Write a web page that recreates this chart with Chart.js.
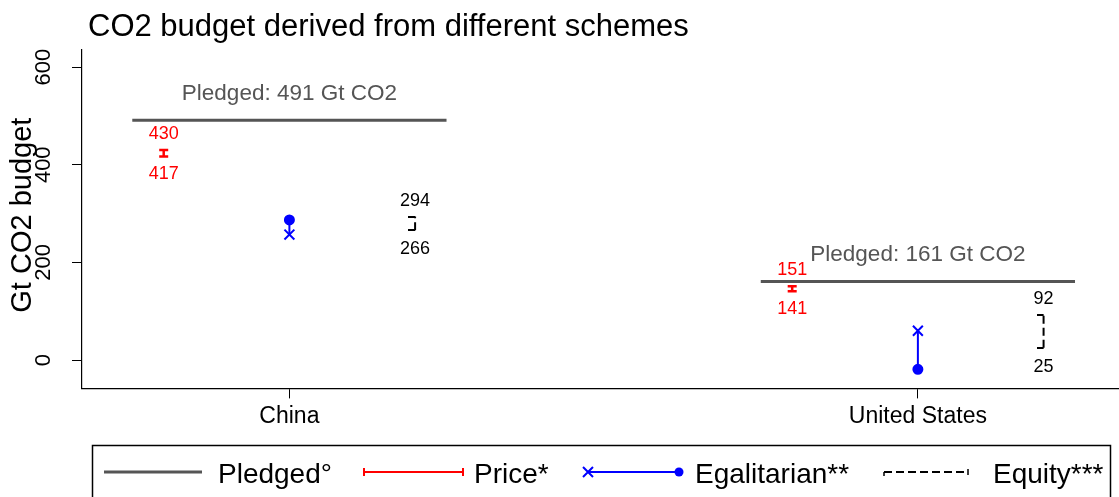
<!DOCTYPE html>
<html lang="en">
<head>
    <meta charset="UTF-8">
    <title>CO2 budget derived from different schemes</title>
    <script src="https://cdn.jsdelivr.net/npm/chart.js"></script>
    <style>
        body { margin: 0; background: #fff; }
    </style>
</head>
<body>
    <canvas id="budgetChart" width="1119" height="497"></canvas>

    <script>
        // values
        const countries = ['China', 'United States'];
        const pledged = [491, 161];
        const priceLow = [417, 141];
        const priceHigh = [430, 151];
        const egalCross = [257, 60];
        const egalDot = [287, -19];
        const equityLow = [266, 25];
        const equityHigh = [294, 92];
        const yTicks = [0, 200, 400, 600];

        const FONT = "'Liberation Sans', Arial, sans-serif";
        const GREY = '#555555';
        const RED = '#ff0000';
        const BLUE = '#0000ff';

        Chart.defaults.font.family = FONT;
        Chart.defaults.color = '#000';

        // half cap used for the dashed equity bars
        const halfCap = document.createElement('canvas');
        halfCap.width = 14;
        halfCap.height = 2;
        halfCap.getContext('2d').fillRect(0, 0, 7, 2);

        const datasets = [];
        countries.forEach((c, i) => {
            const x = i + 1;
            datasets.push({
                label: 'Pledged',
                data: [{x: x - 0.25, y: pledged[i]}, {x: x + 0.25, y: pledged[i]}],
                showLine: true, borderColor: GREY, borderWidth: 3, pointRadius: 0
            });
            datasets.push({
                label: 'Price',
                data: [{x: x - 0.2, y: priceLow[i]}, {x: x - 0.2, y: priceHigh[i]}],
                showLine: true, borderColor: RED, borderWidth: 2.5,
                pointStyle: 'line', pointRadius: 4.5, pointBorderColor: RED, pointBorderWidth: 2.5
            });
            datasets.push({
                label: 'Egalitarian',
                data: [{x: x, y: egalCross[i]}, {x: x, y: egalDot[i]}],
                showLine: true, borderColor: BLUE, borderWidth: 2,
                pointStyle: ['crossRot', 'circle'], pointRadius: [7, 4.5],
                pointBorderColor: BLUE, pointBackgroundColor: BLUE, pointBorderWidth: 2
            });
            datasets.push({
                label: 'Equity',
                data: [{x: x + 0.2, y: equityLow[i]}, {x: x + 0.2, y: equityHigh[i]}],
                showLine: true, borderColor: '#000', borderWidth: 2, borderDash: [8, 4],
                pointStyle: halfCap, pointRadius: 5
            });
        });

        // texts drawn on the canvas: title, rotated y ticks, value labels, legend
        const annotate = {
            id: 'annotate',
            afterDraw(chart) {
                const ctx = chart.ctx;
                const xs = chart.scales.x, ys = chart.scales.y;
                ctx.save();

                ctx.fillStyle = '#000';
                ctx.font = '31px ' + FONT;
                ctx.textAlign = 'left';
                ctx.textBaseline = 'alphabetic';
                ctx.fillText('CO2 budget derived from different schemes', 88, 36);

                // y tick labels and title, rotated as in the original
                yTicks.forEach(v => {
                    ctx.save();
                    ctx.translate(44, ys.getPixelForValue(v));
                    ctx.rotate(-Math.PI / 2);
                    ctx.font = '22px ' + FONT;
                    ctx.textAlign = 'center';
                    ctx.textBaseline = 'middle';
                    ctx.fillText(String(v), 0, 0);
                    ctx.restore();
                });
                ctx.save();
                ctx.translate(23, (chart.chartArea.top + chart.chartArea.bottom) / 2 - 4);
                ctx.rotate(-Math.PI / 2);
                ctx.font = '29px ' + FONT;
                ctx.textAlign = 'center';
                ctx.textBaseline = 'middle';
                ctx.fillText('Gt CO2 budget', 0, 0);
                ctx.restore();

                countries.forEach((c, i) => {
                    const x = i + 1;
                    ctx.textAlign = 'center';
                    ctx.textBaseline = 'alphabetic';
                    ctx.font = '22.5px ' + FONT;
                    ctx.fillStyle = GREY;
                    ctx.fillText('Pledged: ' + pledged[i] + ' Gt CO2', xs.getPixelForValue(x), ys.getPixelForValue(pledged[i]) - 20);

                    ctx.font = '18px ' + FONT;
                    ctx.fillStyle = RED;
                    const px = xs.getPixelForValue(x - 0.2);
                    ctx.fillText(String(priceHigh[i]), px, ys.getPixelForValue(priceHigh[i]) - 11);
                    ctx.fillText(String(priceLow[i]), px, ys.getPixelForValue(priceLow[i]) + 23);

                    ctx.fillStyle = '#000';
                    const ex = xs.getPixelForValue(x + 0.2);
                    ctx.fillText(String(equityHigh[i]), ex, ys.getPixelForValue(equityHigh[i]) - 11);
                    ctx.fillText(String(equityLow[i]), ex, ys.getPixelForValue(equityLow[i]) + 24);
                });

                // legend
                const ly = 472;
                ctx.strokeStyle = '#000';
                ctx.lineWidth = 1.5;
                ctx.strokeRect(92.5, 445.5, 1018, 60);

                ctx.lineWidth = 3;
                ctx.strokeStyle = GREY;
                ctx.beginPath(); ctx.moveTo(104, ly); ctx.lineTo(202, ly); ctx.stroke();

                ctx.lineWidth = 2;
                ctx.strokeStyle = RED;
                ctx.beginPath();
                ctx.moveTo(364, ly); ctx.lineTo(463, ly);
                ctx.moveTo(364, ly - 4); ctx.lineTo(364, ly + 4);
                ctx.moveTo(463, ly - 4); ctx.lineTo(463, ly + 4);
                ctx.stroke();

                ctx.strokeStyle = BLUE;
                ctx.fillStyle = BLUE;
                ctx.beginPath();
                ctx.moveTo(588, ly); ctx.lineTo(679, ly);
                ctx.moveTo(583, ly - 5); ctx.lineTo(593, ly + 5);
                ctx.moveTo(583, ly + 5); ctx.lineTo(593, ly - 5);
                ctx.stroke();
                ctx.beginPath(); ctx.arc(679, ly, 4.5, 0, Math.PI * 2); ctx.fill();

                ctx.strokeStyle = '#000';
                ctx.setLineDash([8, 4]);
                ctx.beginPath(); ctx.moveTo(884, ly); ctx.lineTo(968, ly); ctx.stroke();
                ctx.setLineDash([]);
                ctx.lineWidth = 1.5;
                ctx.beginPath();
                ctx.moveTo(884, ly); ctx.lineTo(884, ly + 4);
                ctx.moveTo(968, ly - 3); ctx.lineTo(968, ly + 3);
                ctx.stroke();

                ctx.fillStyle = '#000';
                ctx.font = '28px ' + FONT;
                ctx.textAlign = 'left';
                ctx.textBaseline = 'alphabetic';
                ctx.fillText('Pledged°', 218, 483);
                ctx.fillText('Price*', 474, 483);
                ctx.fillText('Egalitarian**', 695, 483);
                ctx.fillText('Equity***', 993, 483);

                ctx.restore();
            }
        };

        new Chart(document.getElementById('budgetChart'), {
            type: 'scatter',
            data: { datasets: datasets },
            options: {
                responsive: false,
                animation: false,
                layout: { autoPadding: false, padding: { left: 72, top: 50, right: 0, bottom: 63 } },
                plugins: {
                    legend: { display: false },
                    title: { display: false },
                    tooltip: { enabled: false }
                },
                scales: {
                    x: {
                        type: 'linear',
                        min: 0.67,
                        max: 2.32,
                        afterBuildTicks: s => { s.ticks = countries.map((c, i) => ({value: i + 1})); },
                        ticks: {
                            callback: v => countries[v - 1],
                            font: { size: 23 },
                            color: '#000',
                            padding: 4,
                            maxRotation: 0
                        },
                        grid: { drawOnChartArea: false, drawTicks: true, tickLength: 10, color: '#000' },
                        border: { color: '#000', width: 1.2 }
                    },
                    y: {
                        min: -58,
                        max: 635,
                        afterBuildTicks: s => { s.ticks = yTicks.map(v => ({value: v})); },
                        ticks: { display: false },
                        grid: { drawOnChartArea: false, drawTicks: true, tickLength: 10, color: '#000' },
                        border: { color: '#000', width: 1.2 }
                    }
                }
            },
            plugins: [annotate]
        });
    </script>
</body>
</html>
